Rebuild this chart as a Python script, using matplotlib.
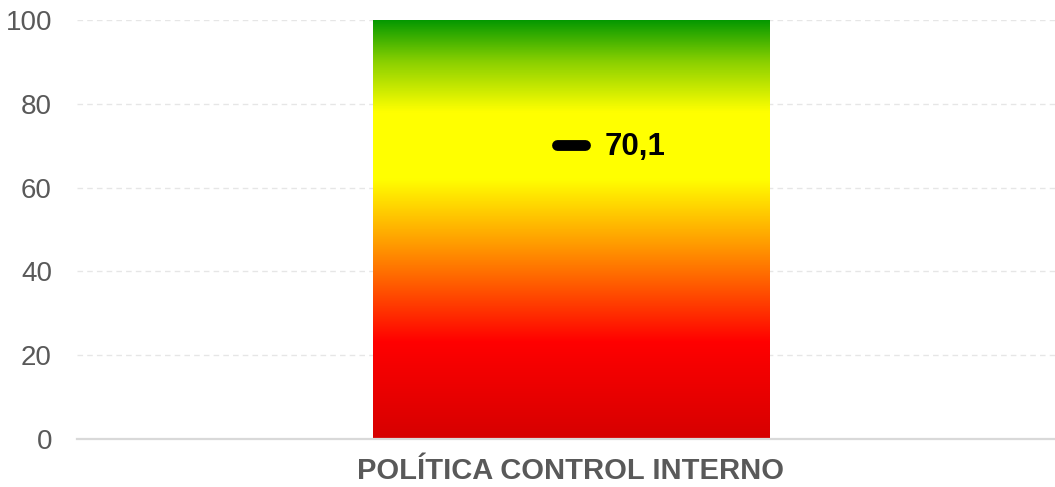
import matplotlib
matplotlib.use("Agg")
import matplotlib.pyplot as plt
import numpy as np
from matplotlib.colors import LinearSegmentedColormap

# Data
categories = ["POLÍTICA CONTROL INTERNO"]
scale_max = [100]
scores = [70.1]
score_labels = ["70,1"]
y_ticks = [0, 20, 40, 60, 80, 100]

plt.rcParams["font.family"] = ["Liberation Sans", "DejaVu Sans"]

fig = plt.figure(figsize=(10.55, 4.87), dpi=100)
ax = fig.add_axes([77 / 1055, 48 / 487, 978 / 1055, 419 / 487])

x = np.arange(len(categories))
bars = ax.bar(x, scale_max, width=0.405, color="none", zorder=2)

# Vertical red -> yellow -> green fill inside each bar
cmap = LinearSegmentedColormap.from_list(
    "traffic",
    [(0.00, "#d60000"), (0.23, "#ff0000"), (0.45, "#ff9200"),
     (0.62, "#ffff00"), (0.78, "#ffff00"), (0.90, "#8ad000"),
     (1.00, "#039800")],
)
grad = np.linspace(0, 1, 512).reshape(-1, 1)
for b in bars:
    x0, w, h = b.get_x(), b.get_width(), b.get_height()
    im = ax.imshow(grad, cmap=cmap, origin="lower", aspect="auto",
                   extent=[x0, x0 + w, 0, h], zorder=2, interpolation="bilinear")
    im.set_clip_path(b)

ax.set_xlim(-0.505, 0.495)
ax.set_ylim(0, 100)

# Score markers and labels
for xi, s, lab in zip(x, scores, score_labels):
    ax.plot([xi - 0.0145, xi + 0.0145], [s, s], color="black", lw=7.8,
            solid_capstyle="round", zorder=4)
    ax.annotate(lab, (xi, s), xytext=(24, -1), textcoords="offset points",
                ha="left", va="center", fontsize=22.5, fontweight="bold",
                color="black", zorder=5)

# Axes styling
ax.set_yticks(y_ticks)
ax.set_yticklabels([str(t) for t in y_ticks], fontsize=20, color="#595959")
ax.set_xticks(x)
ax.set_xticklabels(categories, fontsize=21, fontweight="bold", color="#595959")
ax.tick_params(axis="both", length=0)
ax.tick_params(axis="y", pad=18)
ax.tick_params(axis="x", pad=13)
for t in y_ticks[1:]:
    ax.axhline(t, color="#e6e6e6", lw=1, ls=(0, (4, 3)), zorder=1)
for side in ["top", "right", "left"]:
    ax.spines[side].set_visible(False)
ax.spines["bottom"].set_color("#d9d9d9")
ax.spines["bottom"].set_linewidth(1.6)
ax.spines["bottom"].set_zorder(3)

fig.savefig("out.png", dpi=100)
